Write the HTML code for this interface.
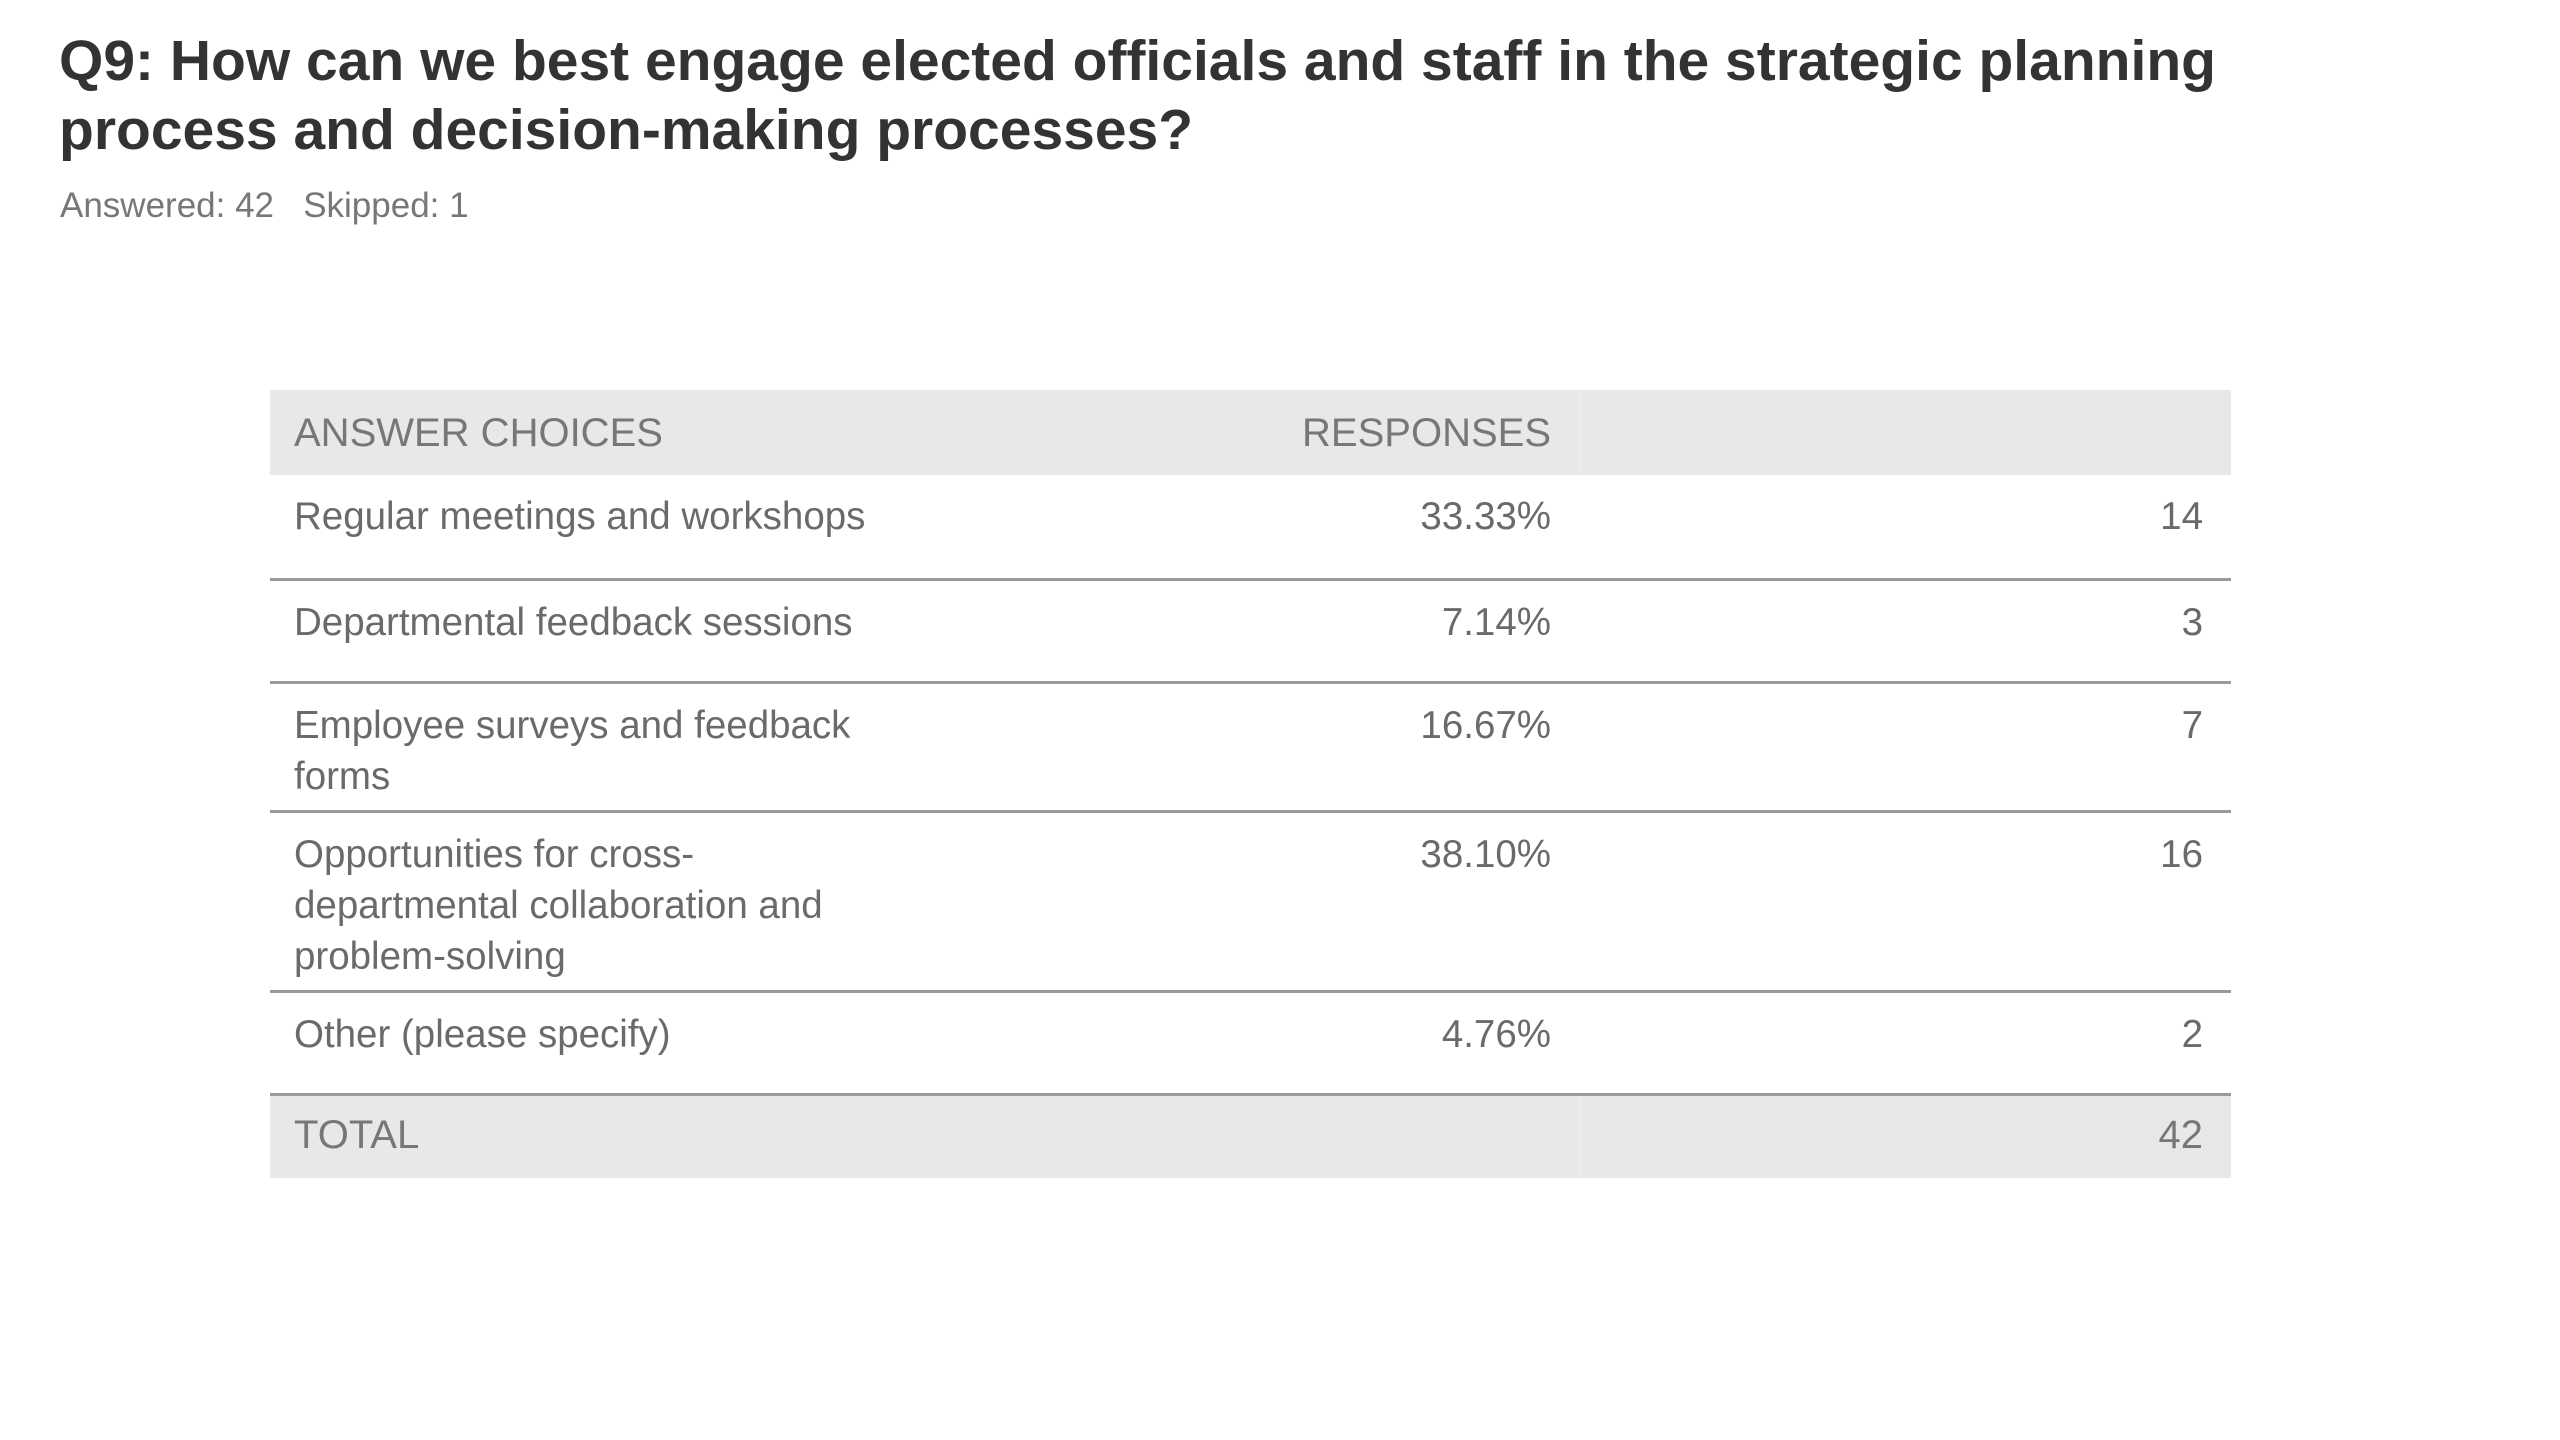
<!DOCTYPE html>
<html><head><meta charset="utf-8"><style>
body{margin:0;width:2560px;height:1440px;background:#fff;position:relative;overflow:hidden;font-family:"Liberation Sans",sans-serif}
.t{position:absolute;left:59px;top:27px;font-weight:bold;font-size:57px;line-height:69px;color:#333;width:2450px;white-space:nowrap}
.s{position:absolute;left:60px;top:186px;font-size:35px;color:#777}
.row{position:absolute;left:270px;width:1961px;box-sizing:border-box;border-bottom:3px solid #9a9a9a}
.c{position:absolute;top:16px;font-size:38.5px;line-height:51px;color:#6a6a6a}
.c1{left:24px}
.c2{right:680px;text-align:right}
.c3{right:28px;text-align:right}
.hd{background:#e8e8e8;border-bottom:none}
.hd .c{color:#777;font-size:40px;top:18px}
.split{position:absolute;left:1309px;top:0;bottom:0;width:3px;background:#ececec}
</style></head><body>
<div class="t">Q9: How can we best engage elected officials and staff in the strategic planning<br>process and decision-making processes?</div>
<div class="s">Answered: 42&nbsp;&nbsp;&nbsp;Skipped: 1</div>

<div class="row hd" style="top:390px;height:85px">
<div class="c c1">ANSWER CHOICES</div>
<div class="c c2">RESPONSES</div>
<div class="split"></div>
</div>
<div class="row" style="top:475px;height:106px">
<div class="c c1">Regular meetings and workshops</div>
<div class="c c2">33.33%</div>
<div class="c c3">14</div>
</div>
<div class="row" style="top:581px;height:103px">
<div class="c c1">Departmental feedback sessions</div>
<div class="c c2">7.14%</div>
<div class="c c3">3</div>
</div>
<div class="row" style="top:684px;height:129px">
<div class="c c1">Employee surveys and feedback<br>forms</div>
<div class="c c2">16.67%</div>
<div class="c c3">7</div>
</div>
<div class="row" style="top:813px;height:180px">
<div class="c c1">Opportunities for cross-<br>departmental collaboration and<br>problem-solving</div>
<div class="c c2">38.10%</div>
<div class="c c3">16</div>
</div>
<div class="row" style="top:993px;height:103px">
<div class="c c1">Other (please specify)</div>
<div class="c c2">4.76%</div>
<div class="c c3">2</div>
</div>
<div class="row hd" style="top:1096px;height:82px">
<div class="c c1" style="top:14px">TOTAL</div>
<div class="c c3" style="top:14px">42</div>
<div class="split"></div>
</div>
</body></html>
